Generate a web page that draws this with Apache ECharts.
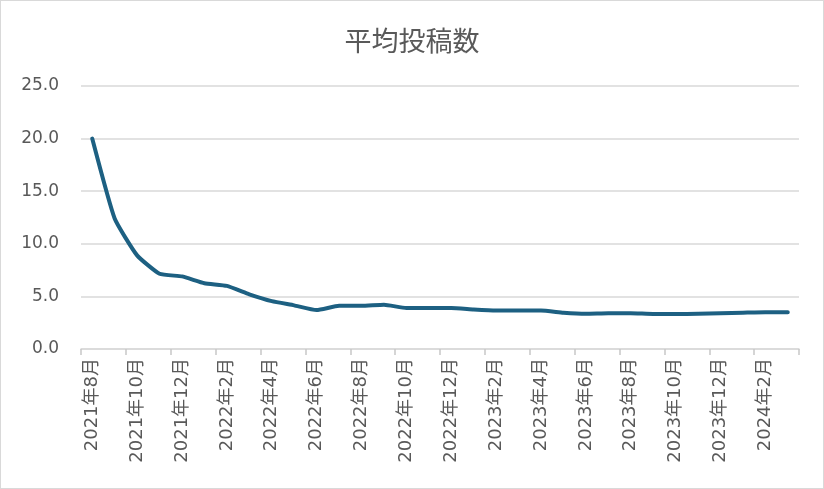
<!DOCTYPE html>
<html>
<head>
<meta charset="utf-8">
<script src="https://cdn.jsdelivr.net/npm/echarts@6/dist/echarts.min.js"></script>
<style>
  html, body { margin: 0; padding: 0; background: #fff; }
  #main { width: 824px; height: 489px; box-sizing: border-box; border: 1px solid #d9d9d9; }
</style>
</head>
<body>
<div id="main"></div>
<script>
// 月ごとのカテゴリ
const months = [
  '2021年8月', '2021年9月', '2021年10月', '2021年11月', '2021年12月',
  '2022年1月', '2022年2月', '2022年3月', '2022年4月', '2022年5月', '2022年6月',
  '2022年7月', '2022年8月', '2022年9月', '2022年10月', '2022年11月', '2022年12月',
  '2023年1月', '2023年2月', '2023年3月', '2023年4月', '2023年5月', '2023年6月',
  '2023年7月', '2023年8月', '2023年9月', '2023年10月', '2023年11月', '2023年12月',
  '2024年1月', '2024年2月', '2024年3月'
]

// 平均投稿数
const avgPosts = [
  20.0, 12.4, 8.9, 7.15, 6.9, 6.25, 6.0, 5.2, 4.55, 4.15, 3.7,
  4.1, 4.1, 4.2, 3.9, 3.9, 3.9, 3.75, 3.65, 3.65, 3.65,
  3.45, 3.35, 3.4, 3.4, 3.33, 3.33, 3.35, 3.4, 3.45, 3.5, 3.5
]

const chartTitle = '平均投稿数'

const textColor = '#595959'
const gridColor = '#d9d9d9'
const font = '"DejaVu Sans", "Noto Sans CJK JP", sans-serif'

var myChart = echarts.init(document.getElementById('main'))

var option = {
  animation: false,
  title: {
    text: chartTitle,
    left: 'center',
    top: 21,
    textStyle: {
      color: textColor,
      fontSize: 27,
      fontWeight: 'normal',
      fontFamily: '"Noto Sans CJK JP", sans-serif'
    }
  },
  grid: {
    left: 80,
    right: 24,
    top: 85,
    bottom: 139,
    containLabel: false
  },
  xAxis: {
    type: 'category',
    data: months,
    boundaryGap: true,
    axisLine: { lineStyle: { color: gridColor, width: 1.5 } },
    axisTick: {
      show: true,
      interval: 1,
      length: 6,
      lineStyle: { color: '#c8c8c8', width: 1.5 }
    },
    axisLabel: {
      interval: 1,
      rotate: 90,
      margin: 9,
      color: textColor,
      fontSize: 18,
      fontFamily: font
    }
  },
  yAxis: {
    type: 'value',
    min: 0,
    max: 25,
    interval: 5,
    axisLine: { show: false },
    axisTick: { show: false },
    splitLine: { lineStyle: { color: gridColor, width: 1.5 } },
    axisLabel: {
      margin: 22,
      color: textColor,
      fontSize: 17,
      fontFamily: font,
      formatter: function (v) { return v.toFixed(1) }
    }
  },
  series: [
    {
      name: chartTitle,
      type: 'line',
      data: avgPosts,
      smooth: 0.15,
      symbol: 'none',
      lineStyle: { color: '#1d6082', width: 4, cap: 'round', join: 'round' }
    }
  ]
}

myChart.setOption(option)
</script>
</body>
</html>
